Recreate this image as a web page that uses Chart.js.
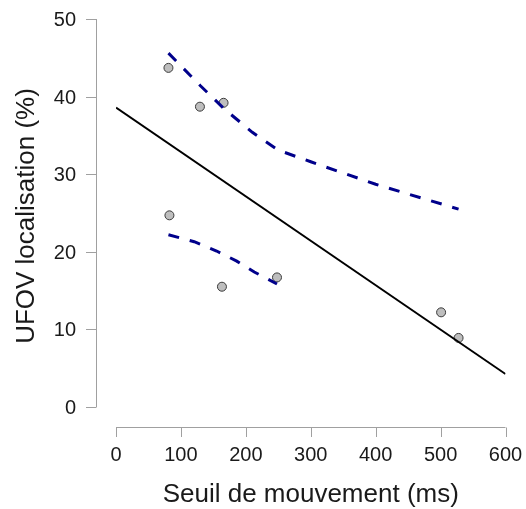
<!DOCTYPE html>
<html>
<head>
<meta charset="utf-8">
<title>UFOV localisation</title>
<script src="https://cdn.jsdelivr.net/npm/chart.js@4.4.1/dist/chart.umd.min.js"></script>
<style>
    html, body { margin: 0; padding: 0; background: #fff; }
    #wrap { width: 526px; height: 509px; }
</style>
</head>
<body>
<div id="wrap"><canvas id="scatterChart" width="526" height="509"></canvas></div>
<script>
// observed values
const seuilMs = [80.8, 129.3, 165.7, 82.3, 163.2, 248, 500.8, 527.7];
const ufovPct = [43.7, 38.7, 39.2, 24.7, 15.5, 16.7, 12.2, 8.9];

// linear fit over the whole range
const fitX = [0, 600];
const fitY = [38.6, 4.25];

// smoothed curves for the two groups
const upperX = [80.8, 130, 167, 210, 250, 300, 400, 527.7];
const upperY = [45.6, 41.4, 38.4, 35.4, 33.1, 31.6, 28.7, 25.5];
const lowerX = [80.8, 120.5, 155, 186, 213, 248];
const lowerY = [22.2, 21.3, 20.1, 18.8, 17.4, 15.85];

const xTicks = [0, 100, 200, 300, 400, 500, 600];
const yTicks = [0, 10, 20, 30, 40, 50];

const xTitle = 'Seuil de mouvement (ms)';
const yTitle = 'UFOV localisation (%)';

const FONT = "'Liberation Sans', Arial, sans-serif";

function toPoints(xs, ys) {
    return xs.map((x, i) => ({ x: x, y: ys[i] }));
}

// R-style detached axes, drawn off the chart's own scales
const detachedAxes = {
    id: 'detachedAxes',
    afterDraw(chart) {
        const ctx = chart.ctx;
        const xs = chart.scales.x;
        const ys = chart.scales.y;
        const area = chart.chartArea;
        const axisX = area.left - 20;    // y axis line
        const axisY = area.bottom + 20;  // x axis line
        const tick = 10;

        ctx.save();
        ctx.strokeStyle = '#a0a0a0';
        ctx.lineWidth = 1;

        // y axis
        const y0 = ys.getPixelForValue(yTicks[0]);
        const y1 = ys.getPixelForValue(yTicks[yTicks.length - 1]);
        ctx.beginPath();
        ctx.moveTo(axisX + 0.5, y0);
        ctx.lineTo(axisX + 0.5, y1);
        yTicks.forEach(v => {
            const py = Math.round(ys.getPixelForValue(v)) + 0.5;
            ctx.moveTo(axisX + 0.5, py);
            ctx.lineTo(axisX - tick, py);
        });
        ctx.stroke();

        // x axis
        const x0 = xs.getPixelForValue(xTicks[0]);
        const x1 = xs.getPixelForValue(xTicks[xTicks.length - 1]);
        ctx.beginPath();
        ctx.moveTo(x0, axisY + 0.5);
        ctx.lineTo(x1, axisY + 0.5);
        xTicks.forEach(v => {
            const px = Math.round(xs.getPixelForValue(v)) + 0.5;
            ctx.moveTo(px, axisY + 0.5);
            ctx.lineTo(px, axisY + tick);
        });
        ctx.stroke();

        // tick labels
        ctx.fillStyle = '#1a1a1a';
        ctx.font = '20px ' + FONT;
        ctx.textAlign = 'right';
        ctx.textBaseline = 'alphabetic';
        yTicks.forEach(v => {
            ctx.fillText(String(v), axisX - 20, ys.getPixelForValue(v) + 7);
        });
        ctx.textAlign = 'center';
        xTicks.forEach(v => {
            ctx.fillText(String(v), xs.getPixelForValue(v), axisY + 34);
        });

        // axis titles
        ctx.font = '26px ' + FONT;
        ctx.fillText(xTitle, (area.left + area.right) / 2, axisY + 75);
        ctx.save();
        ctx.translate(axisX - 62, (area.top + area.bottom) / 2 + 3);
        ctx.rotate(-Math.PI / 2);
        ctx.fillText(yTitle, 0, 0);
        ctx.restore();

        ctx.restore();
    }
};

new Chart(document.getElementById('scatterChart').getContext('2d'), {
    type: 'scatter',
    data: {
        datasets: [
            {
                label: 'points',
                data: toPoints(seuilMs, ufovPct),
                pointRadius: 4.5,
                pointBackgroundColor: '#bebebe',
                pointBorderColor: '#3a3a3a',
                pointBorderWidth: 1,
                order: 3
            },
            {
                label: 'fit',
                data: toPoints(fitX, fitY),
                showLine: true,
                borderColor: '#000',
                borderWidth: 2,
                pointRadius: 0,
                order: 1
            },
            {
                label: 'upper',
                data: toPoints(upperX, upperY),
                showLine: true,
                borderColor: '#00008b',
                borderWidth: 3,
                borderDash: [11, 11],
                borderCapStyle: 'butt',
                pointRadius: 0,
                order: 2
            },
            {
                label: 'lower',
                data: toPoints(lowerX, lowerY),
                showLine: true,
                borderColor: '#00008b',
                borderWidth: 3,
                borderDash: [11, 11],
                borderCapStyle: 'butt',
                pointRadius: 0,
                order: 2
            }
        ]
    },
    options: {
        responsive: false,
        animation: false,
        layout: { padding: { left: 116, right: 20.5, top: 19, bottom: 102 } },
        plugins: {
            legend: { display: false },
            tooltip: { enabled: false }
        },
        scales: {
            x: { type: 'linear', display: false, min: 0, max: 600 },
            y: { type: 'linear', display: false, min: 0, max: 50 }
        }
    },
    plugins: [detachedAxes]
});
</script>
</body>
</html>
